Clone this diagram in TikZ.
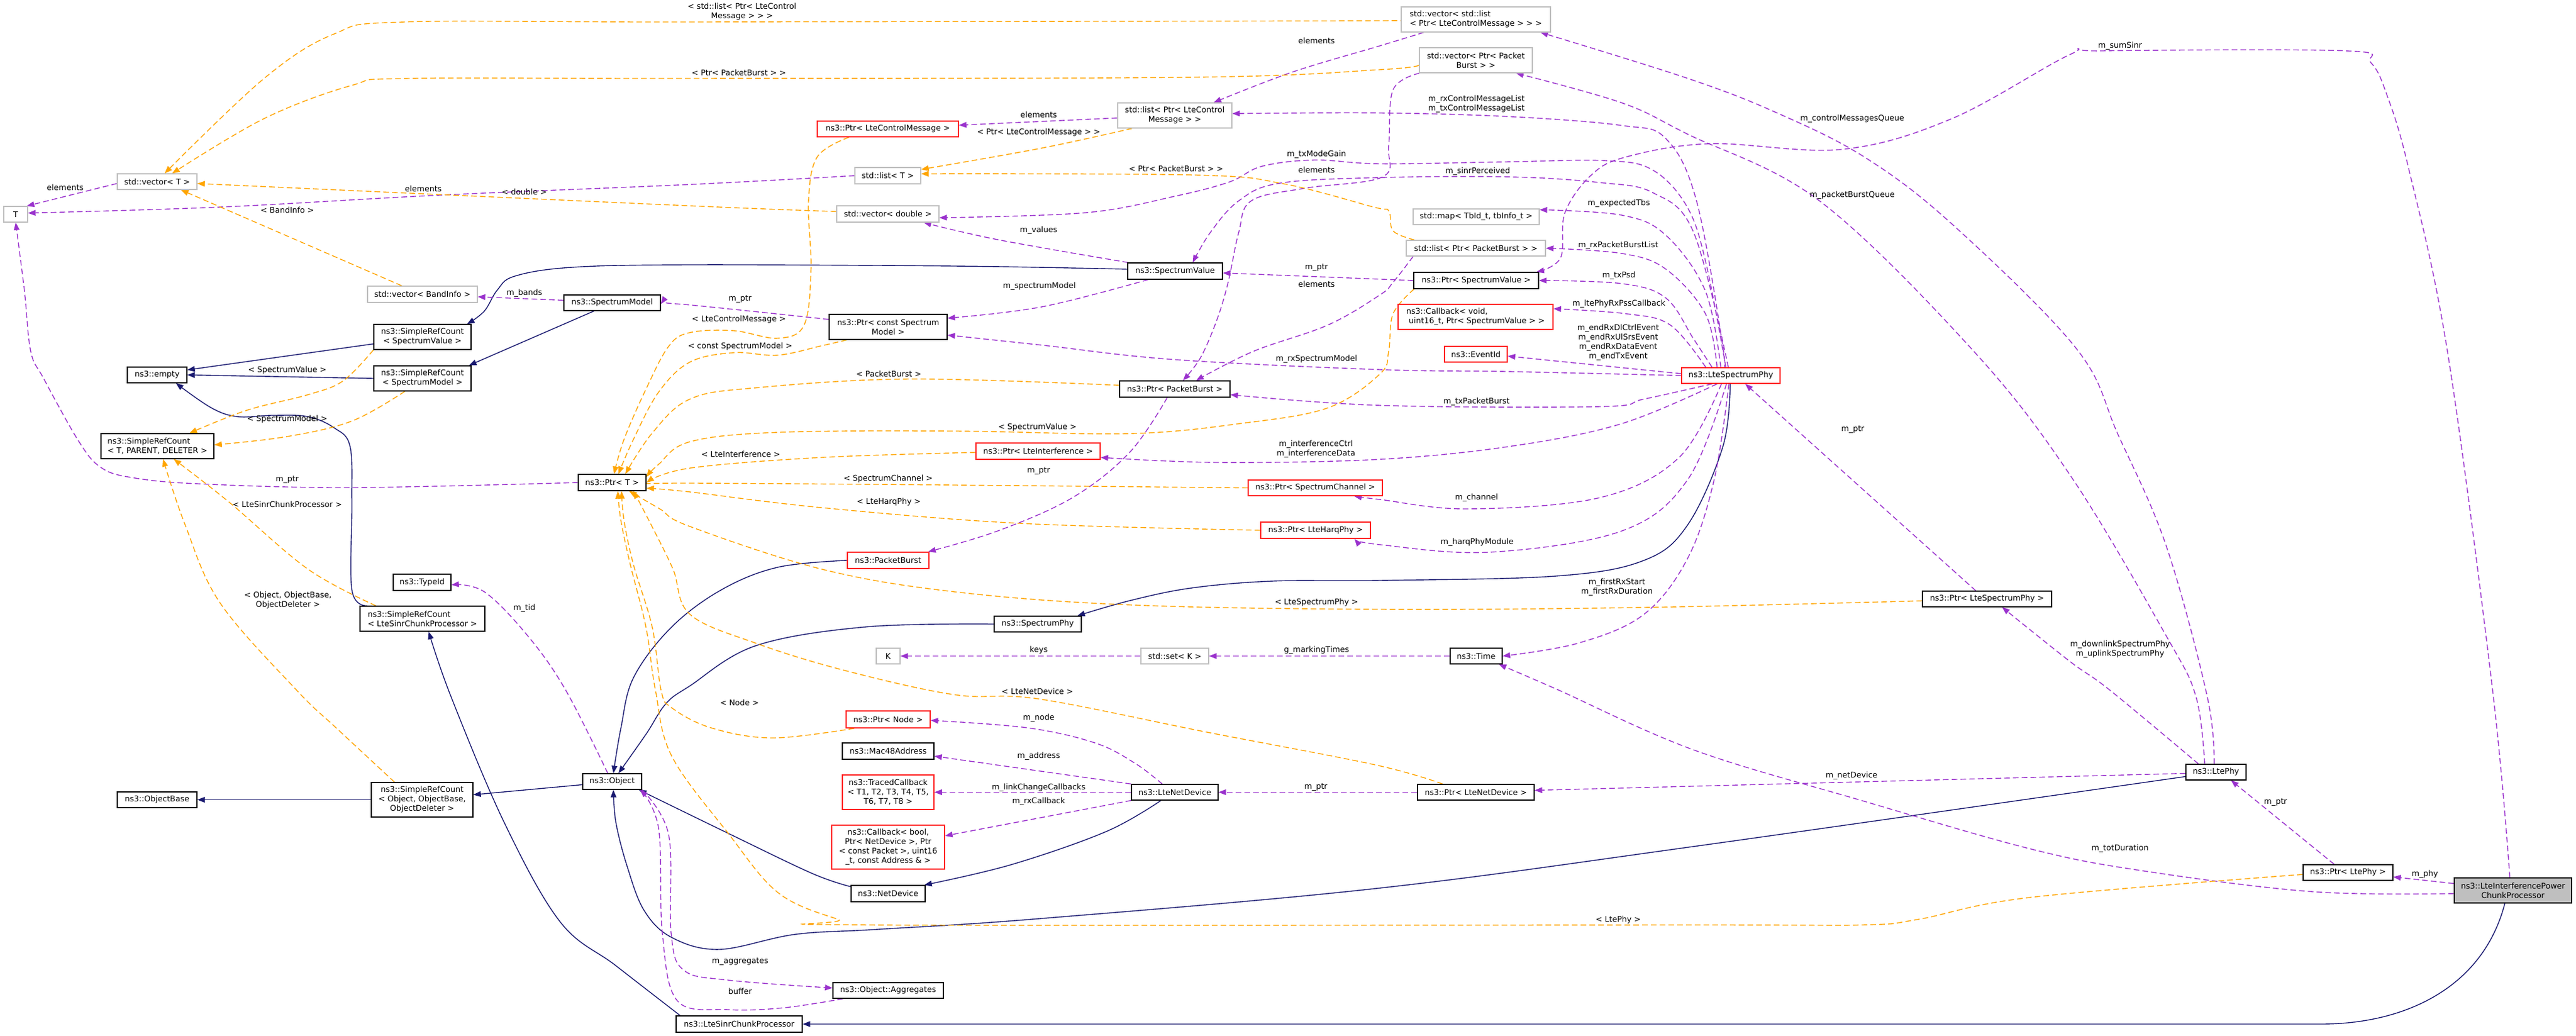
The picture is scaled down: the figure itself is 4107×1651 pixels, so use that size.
\documentclass[tikz,border=0pt]{standalone}
\usepackage{fontspec}
\setmainfont{DejaVu Sans}
\usetikzlibrary{arrows.meta}
\newcommand{\fsz}{\fontsize{12.6}{15}\selectfont}
\definecolor{inhc}{HTML}{191970}
\definecolor{usec}{HTML}{9A32CD}
\definecolor{tplc}{HTML}{FFA500}
\definecolor{grayb}{HTML}{BFBFBF}
\definecolor{redb}{HTML}{FF2020}
\pgfdeclarelayer{bg}
\pgfsetlayers{bg,main}
\begin{document}
\begin{tikzpicture}[x=1pt,y=-1pt,
  nbox/.style={rectangle, draw, fill=white, line width=1.3pt, inner sep=0pt, align=center, font=\fsz},
  wh/.style 2 args={minimum width=#1pt, minimum height=#2pt},
  bk/.style={nbox, draw=black},
  gr/.style={nbox, draw=grayb},
  rd/.style={nbox, draw=redb, line width=1.5pt},
  lab/.style={inner sep=0pt, align=center, font=\fsz},
  inh/.style={draw=inhc, line width=1.4pt, smooth, tension=0.6, -{Triangle[length=12pt,width=9pt]}},
  usg/.style={draw=usec, line width=1.4pt, smooth, tension=0.6, dash pattern=on 9pt off 5pt, -{Triangle[length=12pt,width=9pt]}},
  tpl/.style={draw=tplc, line width=1.4pt, smooth, tension=0.6, dash pattern=on 9pt off 5pt, -{Triangle[length=12pt,width=9pt]}},
]
\begin{pgfonlayer}{bg}
\fill[white] (0,0) rectangle (4107,1651);
\end{pgfonlayer}
\useasboundingbox (0,0) rectangle (4107,1651);

% ---------------- nodes
\node[gr, wh={127}{25}] (vecT) at (250.5,289.5) {std::vector< T >};
\node[gr, wh={38}{25}] (T) at (25,341.5) {T};
\node[gr, wh={175}{26}] (vecBand) at (673.5,469) {std::vector< BandInfo >};
\node[bk, wh={154}{25}] (specModel) at (976,482.5) {ns3::SpectrumModel};
\node[bk, wh={155}{40}] (srcSV) at (673.5,537) {ns3::SimpleRefCount\\< SpectrumValue >};
\node[bk, wh={95}{25}] (empty) at (250.5,597.5) {ns3::empty};
\node[bk, wh={155}{40}] (srcSM) at (673.5,603) {ns3::SimpleRefCount\\< SpectrumModel >};
\node[bk, wh={180}{40}, align=left] (srcT) at (251,711) {ns3::SimpleRefCount\\< T, PARENT, DELETER >};
\node[bk, wh={108}{26}] (ptrT) at (976,769) {ns3::Ptr< T >};
\node[bk, wh={92}{26}] (typeId) at (673,928) {ns3::TypeId};
\node[bk, wh={199}{40}, align=left] (srcLSCP) at (673.5,986) {ns3::SimpleRefCount\\< LteSinrChunkProcessor >};
\node[bk, wh={127}{25}] (objBase) at (250.5,1274.5) {ns3::ObjectBase};
\node[bk, wh={162}{55}] (srcObj) at (673,1274.5) {ns3::SimpleRefCount\\< Object, ObjectBase,\\ObjectDeleter >};
\node[bk, wh={94}{25}] (object) at (976,1245.5) {ns3::Object};
\node[bk, wh={201}{26}] (lscp) at (1178.5,1632) {ns3::LteSinrChunkProcessor};
\node[rd, wh={225}{25}] (ptrLCM) at (1415.5,205.5) {ns3::Ptr< LteControlMessage >};
\node[gr, wh={182}{40}] (listLCM) at (1873,184) {std::list< Ptr< LteControl\\Message > >};
\node[gr, wh={105}{26}] (listT) at (1415.5,280) {std::list< T >};
\node[gr, wh={163}{26}] (vecDouble) at (1415.5,341) {std::vector< double >};
\node[bk, wh={151}{26}] (specValue) at (1873.5,432) {ns3::SpectrumValue};
\node[bk, wh={188}{40}] (ptrCSM) at (1416,521) {ns3::Ptr< const Spectrum\\Model >};
\node[gr, wh={238}{40}, align=left] (vecListLCM) at (2353,31) {std::vector< std::list\\< Ptr< LteControlMessage > > >};
\node[gr, wh={180}{40}] (vecPB) at (2353,96) {std::vector< Ptr< Packet\\Burst > >};
\node[gr, wh={201}{25}] (mapTb) at (2353.5,345.5) {std::map< TbId\_t, tbInfo\_t >};
\node[gr, wh={222}{25}] (listPB) at (2353,395.5) {std::list< Ptr< PacketBurst > >};
\node[bk, wh={199}{26}] (ptrSV) at (2353.5,447) {ns3::Ptr< SpectrumValue >};
\node[rd, wh={247}{40}, align=left] (cbVoid) at (2352.5,505) {ns3::Callback< void,\\\hspace*{4pt}uint16\_t, Ptr< SpectrumValue > >};
\node[rd, wh={100}{25}] (eventId) at (2353,564.5) {ns3::EventId};
\node[rd, wh={157}{25}] (lsp) at (2759.5,598.5) {ns3::LteSpectrumPhy};
\node[bk, wh={206}{25}] (ptrLSP) at (3168,954.5) {ns3::Ptr< LteSpectrumPhy >};
\node[bk, wh={83}{25}] (time) at (2353.5,1045.5) {ns3::Time};
\node[bk, wh={176}{26}] (ptrPB) at (1873,620) {ns3::Ptr< PacketBurst >};
\node[rd, wh={198}{26}] (ptrLI) at (1655,719) {ns3::Ptr< LteInterference >};
\node[rd, wh={214}{25}] (ptrSC) at (2097,777.5) {ns3::Ptr< SpectrumChannel >};
\node[rd, wh={175}{26}] (ptrHarq) at (2097.5,845) {ns3::Ptr< LteHarqPhy >};
\node[rd, wh={130}{26}] (pb) at (1416,893) {ns3::PacketBurst};
\node[bk, wh={139}{25}] (specPhy) at (1654.5,994.5) {ns3::SpectrumPhy};
\node[gr, wh={38}{25}] (K) at (1416,1045.5) {K};
\node[gr, wh={108}{25}] (setK) at (1873,1045.5) {std::set< K >};
\node[rd, wh={134}{27}] (ptrNode) at (1416,1146.5) {ns3::Ptr< Node >};
\node[bk, wh={146}{26}] (mac) at (1416,1197) {ns3::Mac48Address};
\node[rd, wh={146}{55}] (traced) at (1416,1262.5) {ns3::TracedCallback\\< T1, T2, T3, T4, T5,\\T6, T7, T8 >};
\node[rd, wh={180}{70}] (cbBool) at (1416,1350) {ns3::Callback< bool,\\Ptr< NetDevice >, Ptr\\< const Packet >, uint16\\\_t, const Address \& >};
\node[bk, wh={118}{26}] (netDev) at (1416,1424) {ns3::NetDevice};
\node[bk, wh={176}{25}] (aggr) at (1416,1578.5) {ns3::Object::Aggregates};
\node[bk, wh={138}{25}] (lteND) at (1873,1262.5) {ns3::LteNetDevice};
\node[bk, wh={186}{25}] (ptrLND) at (2353,1262.5) {ns3::Ptr< LteNetDevice >};
\node[bk, wh={96}{25}] (ltePhy) at (3533,1230.5) {ns3::LtePhy};
\node[bk, wh={143}{25}] (ptrLtePhy) at (3743.5,1390.5) {ns3::Ptr< LtePhy >};
\node[bk, wh={187}{40}, fill=grayb] (lipcp) at (4006.5,1419) {ns3::LteInterferencePower\\ChunkProcessor};

\begin{pgfonlayer}{bg}
% ---------------- inheritance
\draw[inh] plot coordinates {([yshift=3pt]specValue.west) (1521,424) (1100,422) (912,426) (821,440) (793,462) (772,496) ([xshift=-7pt]srcSV.north east)};
\draw[inh] ([xshift=-29pt]specModel.south) -- ([xshift=-4pt]srcSM.north east);
\draw[inh] ([yshift=-11pt]srcSV.west) -- ([yshift=8pt]empty.east);
\draw[inh] (srcSM.west) -- (empty.east);
\draw[inh] plot coordinates {([xshift=12pt]srcLSCP.north west) (561,940) (561,800) (558,711) (533,682) (491,664) (435,662) (379,664) (337,650) ([xshift=30pt]empty.south)};
\draw[inh] plot coordinates {([xshift=7pt]lscp.north west) (982,1539) (893,1469) (804,1311) (719,1110) ([xshift=10pt]srcLSCP.south)};
\draw[inh] (srcObj.west) -- (objBase.east);
\draw[inh] ([yshift=-5pt]object.west) -- ([yshift=8pt]srcObj.east);
\draw[inh] plot coordinates {(pb.west) (1240,904) (1150,940) (1070,1000) (1010,1080) (990,1160) ([xshift=2pt]object.north)};
\draw[inh] plot coordinates {(specPhy.west) (1381,999) (1205,1029) (1100,1093) (1062,1121) (1030,1170) ([xshift=10pt]object.north)};
\draw[inh] plot coordinates {([yshift=11pt]netDev.west) (1295,1392) (1161,1328) ([xshift=-5pt]object.south east)};
\draw[inh] plot coordinates {([xshift=-22pt]lteND.south) (1764,1325) (1612,1378) ([xshift=-2pt]netDev.north east)};
\draw[inh] plot coordinates {([yshift=-7pt]ltePhy.west) (2700,1349) (2193,1416) (1657,1464) (1400,1481) (1268,1489) (1147,1513) (1071,1494) (1027,1451) (1000,1381) (982,1311) ([xshift=2pt]object.south)};
\draw[inh] plot coordinates {([xshift=-1pt]lsp.south) (2747,711) (2691,836) (2621,893) (2481,918) (2200,925) (2030,926) (1900,937) (1802,957) ([xshift=-7pt]specPhy.north east)};
\draw[inh] ([xshift=-13pt]lipcp.south) .. controls (3960,1570) and (3840,1632) .. (3700,1632) -- (lscp.east);

% ---------------- usage
\draw[usg] plot coordinates {([yshift=-3pt]vecT.west) (140,304) ([xshift=-2pt]T.north east)};
\draw[usg] plot coordinates {(listT.west) (1100,294) (701,311) (351,330) ([yshift=2pt]T.east)};
\draw[usg] plot coordinates {(ptrT.west) (561,777) (316,771) (210,761) (161,745) (126,704) (70,604) (49,560) (39,464) (T.south)};
\draw[usg] ([yshift=-4pt]listLCM.west) -- ([yshift=6pt]ptrLCM.east);
\draw[usg] plot coordinates {([xshift=-83pt]vecListLCM.south) (2200,73) (2060,115) ([xshift=62pt]listLCM.north)};
\draw[usg] plot coordinates {([xshift=-75pt]specValue.north) (1591,382) ([xshift=-25pt]vecDouble.south east)};
\draw[usg] plot coordinates {([xshift=-43pt]specValue.south) (1661,489) ([yshift=14pt]ptrCSM.east)};
\draw[usg] plot coordinates {([yshift=12pt]ptrCSM.west) (1100,486) ([yshift=-2pt]specModel.east)};
\draw[usg] ([yshift=4pt]specModel.west) -- ([yshift=-4pt]vecBand.east);
\draw[usg] (ptrSV.west) -- ([yshift=-3pt]specValue.east);
\draw[usg] plot coordinates {([xshift=-12pt]ptrPB.south) (1801,721) (1710,793) (1591,846) ([xshift=-2pt]pb.north east)};
\draw[usg] plot coordinates {([xshift=-100pt]listPB.south) (2221,450) (2200,470) (2117,518) (1998,560) ([xshift=34pt]ptrPB.north)};
\draw[usg] plot coordinates {([xshift=-90pt]vecPB.south) (2221,143) (2214,232) (2204,282) (2080,300) (1995,320) (1975,370) (1958,450) (1940,510) (1914,570) ([xshift=13pt]ptrPB.north)};
\draw[usg] plot coordinates {([xshift=-13pt]lsp.north) (2747,554) (2705,321) (2656,221) (2586,200) (2410,186) (2200,180) ([yshift=3pt]listLCM.east)};
\draw[usg] plot coordinates {([xshift=-8pt]lsp.north) (2720,420) (2690,330) (2635,271) (2560,256) (2400,258) (2200,261) (2096,255) (2012,265) (1960,290) (1872,313) (1731,339) ([yshift=-6pt]vecDouble.east)};
\draw[usg] plot coordinates {([xshift=-4pt]lsp.north) (2700,370) (2635,307) (2551,291) (2410,282) (2200,283) (2040,292) (1975,320) (1930,370) ([xshift=28pt]specValue.north)};
\draw[usg] plot coordinates {([xshift=-16pt]lsp.north) (2719,464) (2656,375) (2586,343) ([yshift=-2pt]mapTb.north east)};
\draw[usg] plot coordinates {([xshift=-22pt]lsp.north) (2719,500) (2656,429) (2586,404) (listPB.east)};
\draw[usg] plot coordinates {([xshift=-30pt]lsp.north) (2700,540) (2656,475) (2586,452) (ptrSV.east)};
\draw[usg] plot coordinates {([xshift=-40pt]lsp.north) (2663,518) (2593,500) ([yshift=13pt]cbVoid.east)};
\draw[usg] ([yshift=3pt]lsp.west) -- ([yshift=-3pt]eventId.east);
\draw[usg] plot coordinates {(lsp.west) (2400,592) (2200,589) (1872,573) (1661,550) ([yshift=-13pt]ptrCSM.east)};
\draw[usg] plot coordinates {([xshift=-30pt]lsp.south) (2621,636) (2551,648) (2200,646) ([yshift=-9pt]ptrPB.east)};
\draw[usg] plot coordinates {([xshift=-22pt]lsp.south) (2586,675) (2410,711) (2200,732) (1942,737) ([yshift=-10pt]ptrLI.east)};
\draw[usg] plot coordinates {([xshift=-15pt]lsp.south) (2677,729) (2551,793) (2340,811) (2200,796) ([xshift=62pt]ptrSC.south)};
\draw[usg] plot coordinates {([xshift=-7pt]lsp.south) (2691,764) (2586,846) (2375,880) (2200,868) ([xshift=62pt]ptrHarq.south)};
\draw[usg] plot coordinates {([xshift=-3pt]lsp.south) (2733,764) (2691,889) (2621,979) (2516,1025) (time.east)};
\draw[usg] plot coordinates {([xshift=-5pt]lipcp.north) (3974,1100) (3902,560) (3840,268) (3805,150) (3780,100) (3740,81) (3351,81) (3300,87) (3112,189) (2937,238) (2726,229) (2593,250) (2537,279) (2495,339) (2488,411) ([xshift=-4pt]ptrSV.north east)};
\draw[usg] ([xshift=-18pt]ptrLSP.north) -- ([xshift=23pt]lsp.south);
\draw[usg] plot coordinates {([xshift=-28pt]ltePhy.north) (3364,1100) (3300,1054) ([xshift=24pt]ptrLSP.south)};
\draw[usg] plot coordinates {([xshift=-18pt]ltePhy.north) (3501,1110) (3454,1014) (3303,761) (3147,560) (2902,321) (2691,214) (2586,164) ([xshift=64pt]vecPB.south)};
\draw[usg] plot coordinates {([xshift=-3pt]ltePhy.north) (3519,1110) (3454,871) (3377,693) (3310,555) (3112,357) (2972,250) (2831,179) (2691,125) ([xshift=103pt]vecListLCM.south)};
\draw[usg] ([yshift=-2pt]ltePhy.west) -- ([yshift=3pt]ptrLND.east);
\draw[usg] (ptrLND.west) -- (lteND.east);
\draw[usg] plot coordinates {([xshift=-20pt]lteND.north) (1809,1216) (1746,1184) (1639,1160) ([yshift=-1.5pt]ptrNode.east)};
\draw[usg] (lteND.north west) -- ([yshift=-8pt]mac.east);
\draw[usg] (lteND.west) -- (traced.east);
\draw[usg] (lteND.south west) -- ([yshift=18pt]cbBool.east);
\draw[usg] plot coordinates {([xshift=-7pt]object.north) (902,1100) (842,1014) (772,943) ([yshift=-4pt]typeId.east)};
\draw[usg] plot coordinates {(object.south east) (1066,1330) (1070,1487) (1090,1546) (1161,1562) ([yshift=4pt]aggr.west)};
\draw[usg] plot coordinates {([xshift=-72pt]aggr.south) (1250,1606) (1161,1609) (1080,1595) (1056,1487) (1050,1320) ([xshift=-3pt]object.south east)};
\draw[usg] ([yshift=11pt]lipcp.west) -- ([yshift=-7pt]ptrLtePhy.east);
\draw[usg] ([xshift=-22pt]ptrLtePhy.north) -- ([xshift=24pt]ltePhy.south);
\draw[usg] plot coordinates {([yshift=-5pt]lipcp.west) (3687,1421) (3418,1388) (3238,1353) (2969,1276) (2700,1195) (2481,1098) ([xshift=-6pt]time.south east)};
\draw[usg] (time.west) -- (setK.east);
\draw[usg] (setK.west) -- (K.east);

% ---------------- template instances
\draw[tpl] plot coordinates {(vecListLCM.west) (2200,33) (1100,35) (645,35) (533,54) (421,125) ([xshift=12pt]vecT.north)};
\draw[tpl] plot coordinates {([yshift=-8pt]vecPB.west) (2200,111) (1907,123) (1100,125) (652,125) (561,136) (421,189) ([xshift=24pt]vecT.north)};
\draw[tpl] plot coordinates {([yshift=4pt]vecDouble.west) (1100,328) ([yshift=-3pt]vecT.east)};
\draw[tpl] ([xshift=-33pt]vecBand.north) -- ([xshift=38pt]vecT.south);
\draw[tpl] plot coordinates {([xshift=-68pt]listLCM.south) (1661,236) ([yshift=10pt]listT.east)};
\draw[tpl] plot coordinates {([xshift=-98pt]listPB.north) (2221,368) (2214,336) (2190,330) (2047,293) (1907,279) ([yshift=3pt]listT.east)};
\draw[tpl] plot coordinates {([xshift=-62pt]ptrLCM.south) (1303,250) (1289,321) (1293,429) (1282,518) (1240,539) (1170,527) (1100,530) (1066,552) (1030,620) (995,700) ([xshift=3pt]ptrT.north)};
\draw[tpl] plot coordinates {([xshift=-66pt]ptrCSM.south) (1310,551) (1240,566) (1170,562) (1100,577) (1050,625) (1010,700) ([xshift=10pt]ptrT.north)};
\draw[tpl] plot coordinates {([yshift=6pt]ptrPB.west) (1451,604) (1205,618) (1100,636) (1040,690) ([xshift=21pt]ptrT.north)};
\draw[tpl] plot coordinates {([xshift=-99pt]ptrSV.south) (2221,500) (2214,560) (2200,596) (2117,650) (1977,675) (1801,691) (1521,687) (1240,689) (1100,704) (1050,740) ([yshift=9pt]ptrT.east)};
\draw[tpl] plot coordinates {([yshift=-2pt]ptrLI.west) (1310,729) (1100,746) (ptrT.east)};
\draw[tpl] plot coordinates {(ptrSC.west) (1521,773) (1100,770) ([yshift=-3pt]ptrT.east)};
\draw[tpl] plot coordinates {(ptrHarq.west) (1626,834) (1310,809) (1100,784) ([yshift=-9pt]ptrT.east)};
\draw[tpl] plot coordinates {([yshift=-3pt]ptrLSP.west) (2621,968) (2200,971) (1802,964) (1521,943) (1310,907) (1100,839) (1052,811) ([xshift=27pt]ptrT.south)};
\draw[tpl] plot coordinates {([xshift=-54pt]ptrNode.south) (1232,1176) (1134,1160) (1071,1128) (1054,1100) (1040,1000) (1010,900) (995,830) ([xshift=15pt]ptrT.south)};
\draw[tpl] plot coordinates {([xshift=-53pt]ptrLND.north) (2193,1219) (1925,1167) (1657,1114) (1521,1107) (1345,1068) (1205,1025) (1100,979) (1073,907) (1038,836) ([xshift=34pt]ptrT.south)};
\draw[tpl] plot coordinates {([yshift=-3pt]ptrLtePhy.west) (3238,1430) (3059,1465) (2969,1474) (2700,1474) (1389,1474) (1336,1465) (1241,1423) (1161,1328) (1071,1205) (1045,1100) (1030,1000) (1005,900) (990,830) ([xshift=9pt]ptrT.south)};
\draw[tpl] plot coordinates {(srcSV.south west) (547,607) (491,629) (393,654) ([xshift=51pt]srcT.north)};
\draw[tpl] plot coordinates {([xshift=-28pt]srcSM.south) (561,671) (456,696) ([yshift=2pt]srcT.east)};
\draw[tpl] plot coordinates {([xshift=26pt]srcLSCP.north west) (491,907) (365,800) ([xshift=26pt]srcT.south)};
\draw[tpl] plot coordinates {([xshift=-44pt]srcObj.north) (536,1160) (473,1100) (351,961) (295,836) ([xshift=9pt]srcT.south)};
\end{pgfonlayer}

% ---------------- labels
\node[lab] (L1) at (104,299) {elements};
\node[lab] (L2) at (675,301) {elements};
\node[lab] (L3) at (458,765) {m\_ptr};
\node[lab] (L4) at (1656,183) {elements};
\node[lab] (L5) at (2099,65) {elements};
\node[lab] (L6) at (1656,367) {m\_values};
\node[lab] (L7) at (1657,456) {m\_spectrumModel};
\node[lab] (L8) at (1180,477) {m\_ptr};
\node[lab] (L9) at (836,467) {m\_bands};
\node[lab] (L10) at (2099,427) {m\_ptr};
\node[lab] (L11) at (1656,751) {m\_ptr};
\node[lab] (L12) at (2099,453) {elements};
\node[lab] (L13) at (2099,271) {elements};
\node[lab] (L14) at (2354,166) {m\_rxControlMessageList\\m\_txControlMessageList};
\node[lab] (L15) at (2099,246) {m\_txModeGain};
\node[lab] (L16) at (2356,273) {m\_sinrPerceived};
\node[lab] (L17) at (2581,324) {m\_expectedTbs};
\node[lab] (L18) at (2580,391) {m\_rxPacketBurstList};
\node[lab] (L19) at (2581,439) {m\_txPsd};
\node[lab] (L20) at (2581,484) {m\_ltePhyRxPssCallback};
\node[lab] (L21) at (2580,546) {m\_endRxDlCtrlEvent\\m\_endRxUlSrsEvent\\m\_endRxDataEvent\\m\_endTxEvent};
\node[lab] (L22) at (2099,572) {m\_rxSpectrumModel};
\node[lab] (L23) at (2354,640) {m\_txPacketBurst};
\node[lab] (L24) at (2098,716) {m\_interferenceCtrl\\m\_interferenceData};
\node[lab] (L25) at (2354,793) {m\_channel};
\node[lab] (L26) at (2355,864) {m\_harqPhyModule};
\node[lab] (L27) at (2578,936) {m\_firstRxStart\\m\_firstRxDuration};
\node[lab] (L28) at (3380,73) {m\_sumSinr};
\node[lab] (L29) at (2954,685) {m\_ptr};
\node[lab] (L30) at (3380,1035) {m\_downlinkSpectrumPhy\\m\_uplinkSpectrumPhy};
\node[lab] (L31) at (2953,311) {m\_packetBurstQueue};
\node[lab] (L32) at (2953,189) {m\_controlMessagesQueue};
\node[lab] (L33) at (2952,1236) {m\_netDevice};
\node[lab] (L34) at (2098,1255) {m\_ptr};
\node[lab] (L35) at (1656,1144) {m\_node};
\node[lab] (L36) at (1656,1205) {m\_address};
\node[lab] (L37) at (1656,1255) {m\_linkChangeCallbacks};
\node[lab] (L38) at (1656,1277) {m\_rxCallback};
\node[lab] (L39) at (836,969) {m\_tid};
\node[lab] (L40) at (1180,1533) {m\_aggregates};
\node[lab] (L41) at (1180,1580) {buffer};
\node[lab] (L42) at (3866,1393) {m\_phy};
\node[lab] (L43) at (3628,1279) {m\_ptr};
\node[lab] (L44) at (3380,1352) {m\_totDuration};
\node[lab] (L45) at (2099,1036) {g\_markingTimes};
\node[lab] (L46) at (1656,1036) {keys};
\node[lab] (T1) at (1183,19) {< std::list< Ptr< LteControl\\Message > > >};
\node[lab] (T2) at (1178,116) {< Ptr< PacketBurst > >};
\node[lab] (T3) at (836,306) {< double >};
\node[lab] (T4) at (458,335) {< BandInfo >};
\node[lab] (T5) at (1656,211) {< Ptr< LteControlMessage > >};
\node[lab] (T6) at (1875,269) {< Ptr< PacketBurst > >};
\node[lab] (T7) at (1178,509) {< LteControlMessage >};
\node[lab] (T8) at (1180,552) {< const SpectrumModel >};
\node[lab] (T9) at (1417,596) {< PacketBurst >};
\node[lab] (T10) at (1654,681) {< SpectrumValue >};
\node[lab] (T11) at (1181,724) {< LteInterference >};
\node[lab] (T12) at (1416,763) {< SpectrumChannel >};
\node[lab] (T13) at (1417,800) {< LteHarqPhy >};
\node[lab] (T14) at (2099,960) {< LteSpectrumPhy >};
\node[lab] (T15) at (1179,1120) {< Node >};
\node[lab] (T16) at (1654,1102) {< LteNetDevice >};
\node[lab] (T17) at (2580,1466) {< LtePhy >};
\node[lab] (T18) at (458,590) {< SpectrumValue >};
\node[lab] (T19) at (458,668) {< SpectrumModel >};
\node[lab] (T20) at (458,804) {< LteSinrChunkProcessor >};
\node[lab] (T21) at (459,957) {< Object, ObjectBase,\\ObjectDeleter >};
\end{tikzpicture}
\end{document}
